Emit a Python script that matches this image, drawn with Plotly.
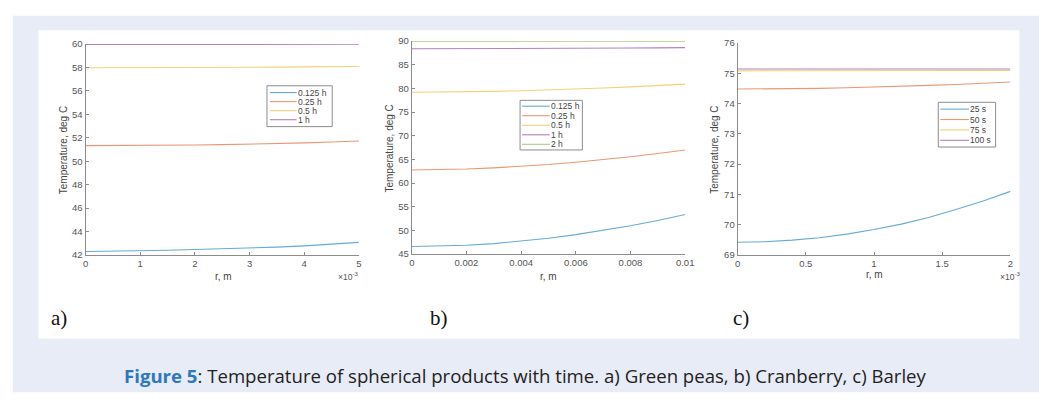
import plotly.graph_objects as go

W, H = 1058, 403

# ---------------- data ----------------
# a) Green peas, r in m
r_a = [0.0, 0.0005, 0.001, 0.0015, 0.002, 0.0025, 0.003, 0.0035, 0.004, 0.0045, 0.005]
a_0125h = [42.30, 42.32, 42.36, 42.41, 42.47, 42.52, 42.58, 42.67, 42.78, 42.92, 43.08]
a_025h = [51.33, 51.33, 51.34, 51.36, 51.38, 51.41, 51.45, 51.50, 51.56, 51.64, 51.72]
a_05h = [57.97, 57.97, 57.97, 57.98, 57.98, 57.99, 58.00, 58.02, 58.04, 58.06, 58.08]
a_1h = [59.96, 59.96, 59.96, 59.96, 59.96, 59.96, 59.96, 59.97, 59.97, 59.97, 59.97]
a_names = ["0.125 h", "0.25 h", "0.5 h", "1 h"]
a_xticks = [0, 0.001, 0.002, 0.003, 0.004, 0.005]
a_xlabels = ["0", "1", "2", "3", "4", "5"]
a_yticks = [42, 44, 46, 48, 50, 52, 54, 56, 58, 60]

# b) Cranberry
r_b = [0.0, 0.001, 0.002, 0.003, 0.004, 0.005, 0.006, 0.007, 0.008, 0.009, 0.01]
b_0125h = [46.58, 46.65, 46.85, 47.20, 47.74, 48.35, 49.10, 49.98, 50.96, 52.10, 53.36]
b_025h = [62.74, 62.80, 62.95, 63.20, 63.50, 63.90, 64.40, 64.95, 65.55, 66.23, 66.99]
b_05h = [79.18, 79.20, 79.26, 79.36, 79.50, 79.66, 79.85, 80.07, 80.32, 80.60, 80.90]
b_1h = [88.36, 88.36, 88.37, 88.38, 88.40, 88.42, 88.45, 88.48, 88.52, 88.56, 88.60]
b_2h = [89.97, 89.97, 89.97, 89.97, 89.97, 89.97, 89.97, 89.98, 89.98, 89.98, 89.98]
b_names = ["0.125 h", "0.25 h", "0.5 h", "1 h", "2 h"]
b_xticks = [0, 0.002, 0.004, 0.006, 0.008, 0.01]
b_xlabels = ["0", "0.002", "0.004", "0.006", "0.008", "0.01"]
b_yticks = [45, 50, 55, 60, 65, 70, 75, 80, 85, 90]

# c) Barley
r_c = [0.0, 0.0002, 0.0004, 0.0006, 0.0008, 0.001, 0.0012, 0.0014, 0.0016, 0.0018, 0.002]
c_25s = [69.42, 69.44, 69.49, 69.57, 69.69, 69.84, 70.02, 70.24, 70.50, 70.78, 71.10]
c_50s = [74.48, 74.48, 74.49, 74.50, 74.52, 74.54, 74.57, 74.60, 74.63, 74.67, 74.71]
c_75s = [75.08, 75.08, 75.08, 75.08, 75.08, 75.08, 75.08, 75.09, 75.09, 75.09, 75.09]
c_100s = [75.14, 75.14, 75.14, 75.14, 75.14, 75.14, 75.14, 75.14, 75.14, 75.14, 75.14]
c_names = ["25 s", "50 s", "75 s", "100 s"]
c_xticks = [0, 0.0005, 0.001, 0.0015, 0.002]
c_xlabels = ["0", "0.5", "1", "1.5", "2"]
c_yticks = [69, 70, 71, 72, 73, 74, 75, 76]

colors = ["#0072BD", "#D95319", "#EDB120", "#7E2F8E", "#77AC30"]
LINE_OPACITY = 0.6

# ---------------- helpers ----------------
def px(x):
    return x / W

def py(y):
    return 1 - y / H

fig = go.Figure()

def add_set(xs, ys_list, names, xa, ya):
    for i, (ys, nm) in enumerate(zip(ys_list, names)):
        fig.add_trace(go.Scatter(
            x=xs, y=ys, name=nm, mode="lines", showlegend=False,
            line=dict(color=colors[i], width=1.1), opacity=LINE_OPACITY,
            xaxis=xa, yaxis=ya))

add_set(r_a, [a_0125h, a_025h, a_05h, a_1h], a_names, "x", "y")
add_set(r_b, [b_0125h, b_025h, b_05h, b_1h, b_2h], b_names, "x2", "y2")
add_set(r_c, [c_25s, c_50s, c_75s, c_100s], c_names, "x3", "y3")

axis_common = dict(showline=True, linecolor="#8c8c8c", linewidth=1, mirror=False,
                   ticks="inside", ticklen=3, tickcolor="#8c8c8c", showgrid=False,
                   zeroline=False, tickfont=dict(family="Liberation Sans, Arial", size=9.5, color="#555555"),
                   fixedrange=True)

panels = [
    ((83.5, 360), (39, 256), [0, 0.005], [42, 60], a_xticks, a_xlabels, a_yticks),
    ((413.5, 690), (36, 255), [0, 0.01], [45, 90], b_xticks, b_xlabels, b_yticks),
    ((743, 1019), (38, 256), [0, 0.002], [69, 76], c_xticks, c_xlabels, c_yticks),
]

layout = dict()
for i, (xd, yd, xr, yr, xt, xl, yt) in enumerate(panels):
    sfx = "" if i == 0 else str(i + 1)
    layout["xaxis" + sfx] = dict(axis_common, domain=[px(xd[0]), px(xd[1])], range=xr,
                                 tickvals=xt, ticktext=xl, anchor="y" + sfx)
    layout["yaxis" + sfx] = dict(axis_common, domain=[py(yd[1]), py(yd[0])], range=yr,
                                 tickvals=yt, anchor="x" + sfx)
fig.update_layout(**layout)

shapes = [
    dict(type="rect", xref="paper", yref="paper", x0=px(10), x1=px(1048), y0=py(397), y1=py(10),
         fillcolor="#e8ecf6", line=dict(width=0), layer="below"),
    dict(type="rect", xref="paper", yref="paper", x0=px(36), x1=px(1028), y0=py(342), y1=py(25),
         fillcolor="white", line=dict(width=0), layer="below"),
]
ann = []

# ---- legends (box + sample lines + labels) ----
leg_font = dict(family="Liberation Sans, Arial", size=8.5, color="#444444")
legend_specs = [
    # names, box left, right, top, bottom, first entry y, step, line x0, line x1
    (a_names, 267, 333, 82, 124, 89, 9.3, 270, 297),
    (b_names, 523, 586, 97, 148, 103, 9.8, 525, 553),
    (c_names, 946, 1004, 99, 145, 106, 10.7, 948, 977),
]
for names, bl, br, bt, bb, y0, step, lx0, lx1 in legend_specs:
    shapes.append(dict(type="rect", xref="paper", yref="paper", x0=px(bl), x1=px(br),
                       y0=py(bb), y1=py(bt), fillcolor="white",
                       line=dict(color="#8c8c8c", width=1), layer="above"))
    for i, nm in enumerate(names):
        yy = y0 + i * step
        shapes.append(dict(type="line", xref="paper", yref="paper", x0=px(lx0), x1=px(lx1),
                           y0=py(yy), y1=py(yy), line=dict(color=colors[i], width=1.1),
                           opacity=LINE_OPACITY, layer="above"))
        ann.append(dict(text=nm, x=px(lx1), y=py(yy), xref="paper", yref="paper",
                        showarrow=False, font=leg_font, xanchor="left", yanchor="middle",
                        borderpad=0))

lab_font = dict(family="Liberation Sans, Arial", size=10, color="#444444")
ytitles = [(62, 148), (391, 147), (720, 148)]
for (x, y) in ytitles:
    ann.append(dict(text="Temperature, deg C", x=px(x), y=py(y), xref="paper", yref="paper",
                    showarrow=False, textangle=-90, font=lab_font, xanchor="center", yanchor="middle"))
xtitles = [(223, 278), (552, 278), (882, 276)]
for (x, y) in xtitles:
    ann.append(dict(text="r, m", x=px(x), y=py(y), xref="paper", yref="paper",
                    showarrow=False, font=lab_font, xanchor="center", yanchor="middle"))
for (x, y) in [(349, 278), (1019, 278)]:
    ann.append(dict(text="×10<sup>-3</sup>", x=px(x), y=py(y), xref="paper", yref="paper",
                    showarrow=False, font=dict(family="Liberation Sans, Arial", size=8.5, color="#555555"),
                    xanchor="center", yanchor="middle"))
for (t, x) in [("a)", 57), ("b)", 441), ("c)", 746)]:
    ann.append(dict(text=t, x=px(x), y=py(321), xref="paper", yref="paper", showarrow=False,
                    font=dict(family="Liberation Serif, Times New Roman", size=21, color="#111111"),
                    xanchor="center", yanchor="middle"))
ann.append(dict(text="<b><span style='color:#2d78be'>Figure 5</span></b>: Temperature of spherical products with time. a) Green peas, b) Cranberry, c) Barley",
                x=px(528), y=py(380), xref="paper", yref="paper", showarrow=False,
                font=dict(family="Open Sans", size=18.6, color="#222222"),
                xanchor="center", yanchor="middle"))

fig.update_layout(width=W, height=H, margin=dict(l=0, r=0, t=0, b=0),
                  paper_bgcolor="white", plot_bgcolor="rgba(0,0,0,0)",
                  shapes=shapes, annotations=ann, showlegend=False)

fig.write_html("out.html", config={"displayModeBar": False, "staticPlot": True},
               post_script="document.body.style.margin='0';document.body.style.padding='0';document.body.style.overflow='hidden';")
